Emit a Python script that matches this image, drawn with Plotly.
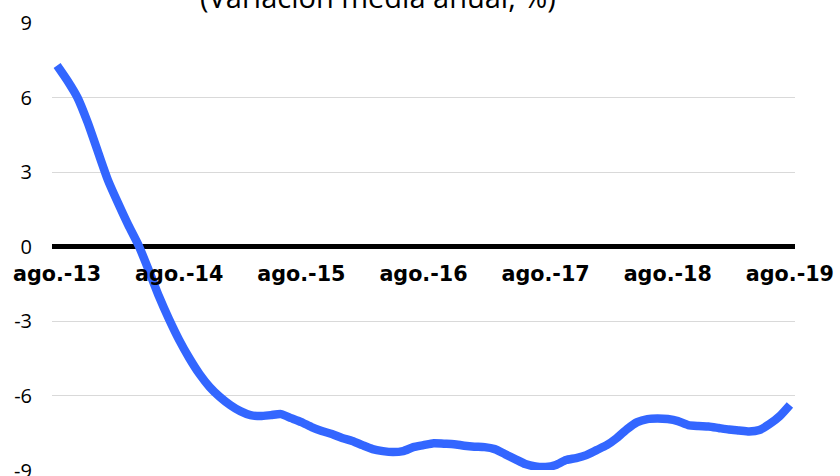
import plotly.graph_objects as go

# Monthly data Aug-2013 .. Aug-2019 (variación media anual, %)
months = list(range(73))
values = [7.29, 6.69, 6.00, 5.00, 3.83, 2.67, 1.74, 0.86, 0.05, -0.95,
          -2.00, -2.93, -3.77, -4.50, -5.14, -5.66, -6.06, -6.38, -6.63, -6.79,
          -6.83, -6.79, -6.75, -6.91, -7.07, -7.27, -7.43, -7.55, -7.71, -7.83,
          -8.00, -8.16, -8.24, -8.28, -8.24, -8.08, -8.00, -7.92, -7.94, -7.96,
          -8.02, -8.06, -8.08, -8.16, -8.36, -8.56, -8.76, -8.86, -8.88, -8.80,
          -8.60, -8.52, -8.40, -8.20, -8.00, -7.71, -7.35, -7.07, -6.95, -6.93,
          -6.95, -7.03, -7.19, -7.23, -7.25, -7.31, -7.37, -7.41, -7.45, -7.39,
          -7.15, -6.83, -6.38]
tick_positions = [0, 12, 24, 36, 48, 60, 72]
tick_labels = ["ago.-13", "ago.-14", "ago.-15", "ago.-16", "ago.-17", "ago.-18", "ago.-19"]
y_ticks = [-9, -6, -3, 0, 3, 6, 9]
y_tick_labels = ["-9", "-6", "-3", "0", "3", "6", "9"]
title_text = "(Variación media anual, %)"

fig = go.Figure()
fig.add_trace(go.Scatter(
    x=months, y=values, mode="lines",
    line=dict(color="#3366FF", width=8.5, shape="spline", smoothing=0.6),
    hoverinfo="skip", showlegend=False,
))

fig.update_layout(
    width=840, height=476,
    margin=dict(l=52, r=41, t=23, b=6),
    paper_bgcolor="white", plot_bgcolor="white",
    showlegend=False,
    xaxis=dict(
        range=[-0.5, 72.5],
        tickmode="array", tickvals=tick_positions, ticktext=tick_labels,
        tickfont=dict(family="DejaVu Sans", size=20.7, color="black", weight="bold"),
        showgrid=False, zeroline=False, showline=False,
        anchor="free", position=0.5,
        ticks="", ticklabelstandoff=13,
    ),
    yaxis=dict(
        range=[-9, 9],
        tickmode="array", tickvals=y_ticks, ticktext=y_tick_labels,
        tickfont=dict(family="Open Sans", size=20, color="black"),
        showgrid=True, gridcolor="#D9D9D9", gridwidth=1,
        zeroline=True, zerolinecolor="black", zerolinewidth=5,
        showline=False, ticks="", ticklabelstandoff=19,
    ),
    annotations=[
        dict(
            text=title_text, xref="paper", yref="paper",
            x=0.439, y=1.012, xanchor="center", yanchor="bottom",
            showarrow=False,
            font=dict(family="Open Sans", size=29, color="black"),
        ),
        # lowest y tick label (Plotly hides it because it crosses the page edge)
        dict(
            text=y_tick_labels[0], xref="paper", yref="y",
            x=-0.0254, y=y_ticks[0], xanchor="right", yanchor="middle",
            showarrow=False, borderpad=0,
            font=dict(family="Open Sans", size=20, color="black"),
        ),
    ],
)

post = (
    "document.body.style.margin='0';"
    "var mb=document.getElementsByClassName('modebar-container');"
    "for(var i=0;i<mb.length;i++){mb[i].style.display='none';}"
)
fig.write_html("out.html", post_script=post)
